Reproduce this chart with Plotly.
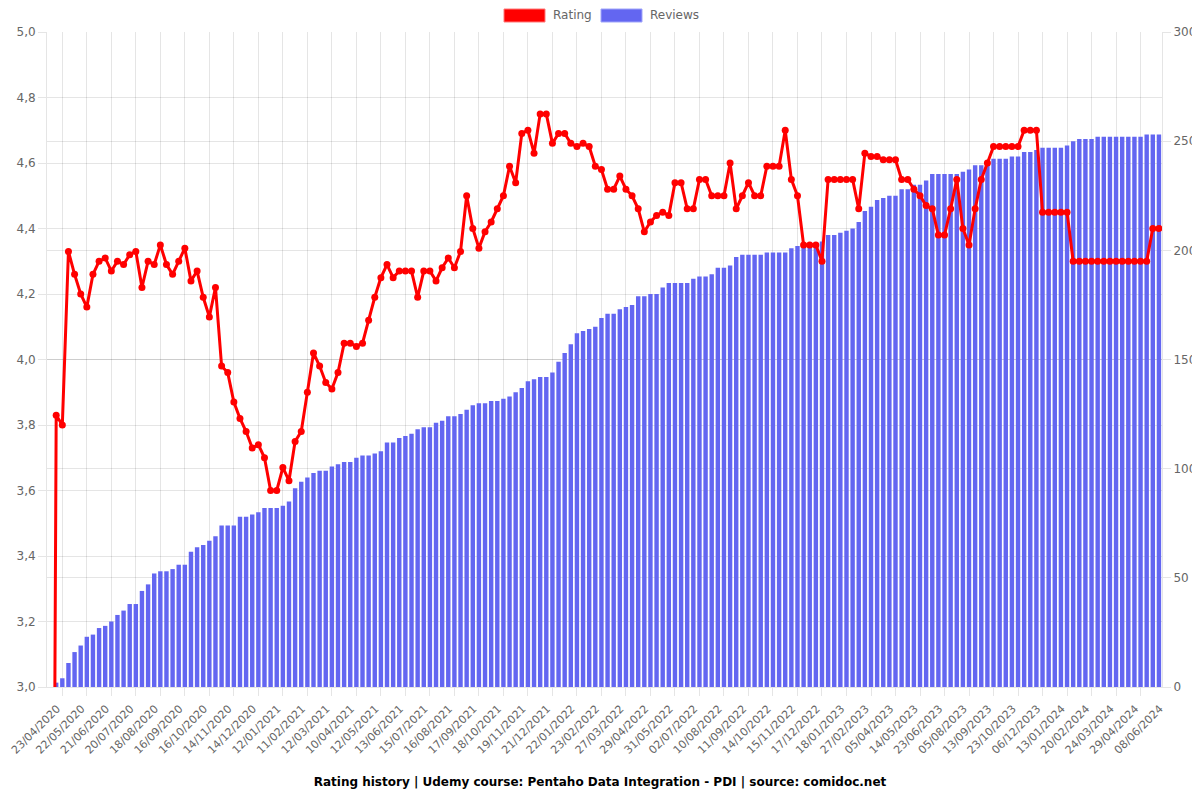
import plotly.graph_objects as go

# ---- data ----
tick_dates = [
    "23/04/2020", "22/05/2020", "21/06/2020", "20/07/2020", "18/08/2020", "16/09/2020",
    "16/10/2020", "14/11/2020", "14/12/2020", "12/01/2021", "11/02/2021", "12/03/2021",
    "10/04/2021", "12/05/2021", "13/06/2021", "15/07/2021", "16/08/2021", "17/09/2021",
    "18/10/2021", "19/11/2021", "21/12/2021", "22/01/2022", "23/02/2022", "27/03/2022",
    "29/04/2022", "31/05/2022", "02/07/2022", "10/08/2022", "11/09/2022", "14/10/2022",
    "15/11/2022", "17/12/2022", "18/01/2023", "27/02/2023", "05/04/2023", "14/05/2023",
    "23/06/2023", "05/08/2023", "13/09/2023", "23/10/2023", "06/12/2023", "13/01/2024",
    "20/02/2024", "24/03/2024", "29/04/2024", "08/06/2024",
]

reviews = [
    0,
    2, 4, 11, 16, 19, 23, 24, 27, 28, 30,
    33, 35, 38, 38, 44, 47, 52, 53, 53, 54,
    56, 56, 62, 64, 65, 67, 69, 74, 74, 74,
    78, 78, 79, 80, 82, 82, 82, 83, 85, 91,
    94, 96, 98, 99,
    99, 101, 102, 103, 103, 105, 106, 106, 107, 108,
    112, 112, 114, 115, 116, 118, 119, 119, 121, 122,
    124, 124, 125, 127, 129, 130, 130, 131, 131, 132,
    133, 135, 137, 140, 141, 142, 142, 144, 149, 153,
    157, 162,
    163, 164, 165, 169, 171, 171, 173, 174, 175, 179,
    179, 180, 180, 183, 185, 185, 185, 185, 187, 188,
    188, 189, 192, 192, 193, 197, 198, 198, 198, 198,
    199, 199, 199, 199, 201, 202, 203, 203, 203, 204,
    207, 207, 208,
    209, 210, 213, 218, 220, 223, 224, 225, 225, 228,
    228, 230, 230, 232, 235, 235, 235, 235, 235, 236,
    237, 239, 239, 240, 242, 242, 242, 243, 243, 245,
    245, 246, 247, 247, 247, 247, 248, 250, 251, 251,
    251, 252, 252, 252, 252, 252, 252, 252, 252, 253,
    253, 253,
]

rating = [
    0,
    3.83, 3.80, 4.33, 4.26, 4.20, 4.16, 4.26, 4.30, 4.31, 4.27,
    4.30, 4.29, 4.32, 4.33, 4.22, 4.30, 4.29, 4.35, 4.29, 4.26,
    4.30, 4.34, 4.24, 4.27, 4.19, 4.13, 4.22, 3.98, 3.96, 3.87,
    3.82, 3.78, 3.73, 3.74, 3.70, 3.60, 3.60, 3.67, 3.63, 3.75,
    3.78, 3.90, 4.02, 3.98,
    3.93, 3.91, 3.96, 4.05, 4.05, 4.04, 4.05, 4.12, 4.19, 4.25,
    4.29, 4.25, 4.27, 4.27, 4.27, 4.19, 4.27, 4.27, 4.24, 4.28,
    4.31, 4.28, 4.33,
    4.50, 4.40, 4.34, 4.39, 4.42, 4.46, 4.50, 4.59, 4.54, 4.69,
    4.70, 4.63, 4.75, 4.75, 4.66, 4.69,
    4.69, 4.66, 4.65, 4.66, 4.65, 4.59, 4.58, 4.52, 4.52, 4.56,
    4.52, 4.50, 4.46, 4.39, 4.42, 4.44, 4.45, 4.44, 4.54, 4.54,
    4.46, 4.46, 4.55, 4.55, 4.50, 4.50, 4.50, 4.60, 4.46, 4.50,
    4.54, 4.50, 4.50, 4.59, 4.59, 4.59, 4.70, 4.55, 4.50, 4.35,
    4.35, 4.35, 4.30, 4.55, 4.55, 4.55,
    4.55, 4.55, 4.46, 4.63, 4.62, 4.62, 4.61, 4.61, 4.61, 4.55,
    4.55, 4.52, 4.50, 4.47, 4.46, 4.38, 4.38, 4.46, 4.55, 4.40,
    4.35, 4.46, 4.55, 4.60, 4.65, 4.65, 4.65, 4.65, 4.65, 4.70,
    4.70, 4.70, 4.45, 4.45, 4.45, 4.45, 4.45,
    4.30, 4.30, 4.30, 4.30, 4.30, 4.30, 4.30, 4.30, 4.30, 4.30,
    4.30, 4.30, 4.30, 4.40, 4.40,
]

title_text = "Rating history | Udemy course: Pentaho Data Integration - PDI | source: comidoc.net"

# ---- styling ----
RED = "#ff0000"
BLUE = "rgb(99,102,241)"
GRID = "rgba(0,0,0,0.1)"
FONT = "DejaVu Sans"

n = len(rating)
idx = list(range(n))
label_pos = idx[0::4][:len(tick_dates)]
grid_pos = [(a + b) / 2 for a, b in zip(label_pos[:-1], label_pos[1:])]

# page body has an 8px margin; size the figure so the plot lands where the reference has it
OFF = 8
W, H = 1200 - OFF, 800 - OFF
L, R, T, B = 47 - OFF, 1200 - 1162, 32 - OFF, 800 - 687

fig = go.Figure()
fig.add_trace(go.Bar(
    x=idx, y=reviews, name="Reviews", width=0.72,
    marker=dict(color=BLUE, line=dict(width=0)),
    xaxis="x", yaxis="y", showlegend=False,
))
fig.add_trace(go.Scatter(
    x=idx, y=rating, name="Rating", mode="lines+markers",
    line=dict(color=RED, width=3),
    marker=dict(color=RED, size=7),
    xaxis="x2", yaxis="y2", showlegend=False,
))

tickfont = dict(family=FONT, size=12, color="#666")
xtickfont = dict(family=FONT, size=11, color="#666")
fig.update_layout(
    width=W, height=H, autosize=False,
    margin=dict(l=L, r=R, t=T, b=B, autoexpand=False),
    paper_bgcolor="white", plot_bgcolor="white",
    separators=",.",
    font=dict(family=FONT, size=12, color="#666"),
    xaxis=dict(
        range=[-0.5, n - 0.5], tickmode="array", tickvals=label_pos, ticktext=tick_dates,
        tickangle=-45, tickfont=xtickfont, showgrid=False, zeroline=False,
        showline=True, linecolor=GRID, linewidth=1,
        ticks="outside", ticklen=10, tickcolor="rgba(0,0,0,0)",
        ticklabelshift=7, ticklabeloverflow="allow",
    ),
    xaxis2=dict(
        overlaying="x", anchor="y2", side="bottom",
        range=[-0.5, n - 0.5], tickmode="array", tickvals=grid_pos,
        showticklabels=False, showgrid=True, gridcolor=GRID, gridwidth=1,
        ticks="outside", ticklen=8, tickcolor=GRID, zeroline=False,
    ),
    yaxis=dict(
        side="right", range=[0, 300], tick0=0, dtick=50, tickfont=tickfont,
        showgrid=True, gridcolor=GRID, zeroline=False,
        ticks="outside", ticklen=8, tickcolor=GRID,
        showline=True, linecolor=GRID,
    ),
    yaxis2=dict(
        overlaying="y", side="left", anchor="x2", range=[3, 5], tick0=3, dtick=0.2,
        tickformat=".1f", tickfont=tickfont,
        showgrid=True, gridcolor=GRID, zeroline=False,
        ticks="outside", ticklen=8, tickcolor=GRID,
        showline=True, linecolor=GRID,
    ),
    title=dict(
        text="<b>" + title_text + "</b>", x=(600 - OFF) / W, xref="container", xanchor="center",
        y=1 - (782 - OFF) / H, yref="container", yanchor="middle",
        font=dict(family=FONT, size=12, color="#000"),
    ),
)

# custom legend (Chart.js style boxes); positions given in page pixels
def px_x(p):
    return (p - OFF - L) / (W - L - R)

def px_y(p):
    return (H - B - (p - OFF)) / (H - T - B)

legend_items = [("Rating", RED, "rgba(255,120,120,1)", 504), ("Reviews", BLUE, "rgba(160,165,250,1)", 601)]
for name, fill, edge, x0 in legend_items:
    fig.add_shape(type="rect", xref="paper", yref="paper",
                  x0=px_x(x0), x1=px_x(x0 + 41), y0=px_y(22), y1=px_y(9),
                  fillcolor=fill, line=dict(color=edge, width=1), layer="above")
    fig.add_annotation(text=name, xref="paper", yref="paper", x=px_x(x0 + 47), y=px_y(15.5),
                       xanchor="left", yanchor="middle", showarrow=False,
                       font=dict(family=FONT, size=12, color="#666"))

fig.write_html("out.html")
